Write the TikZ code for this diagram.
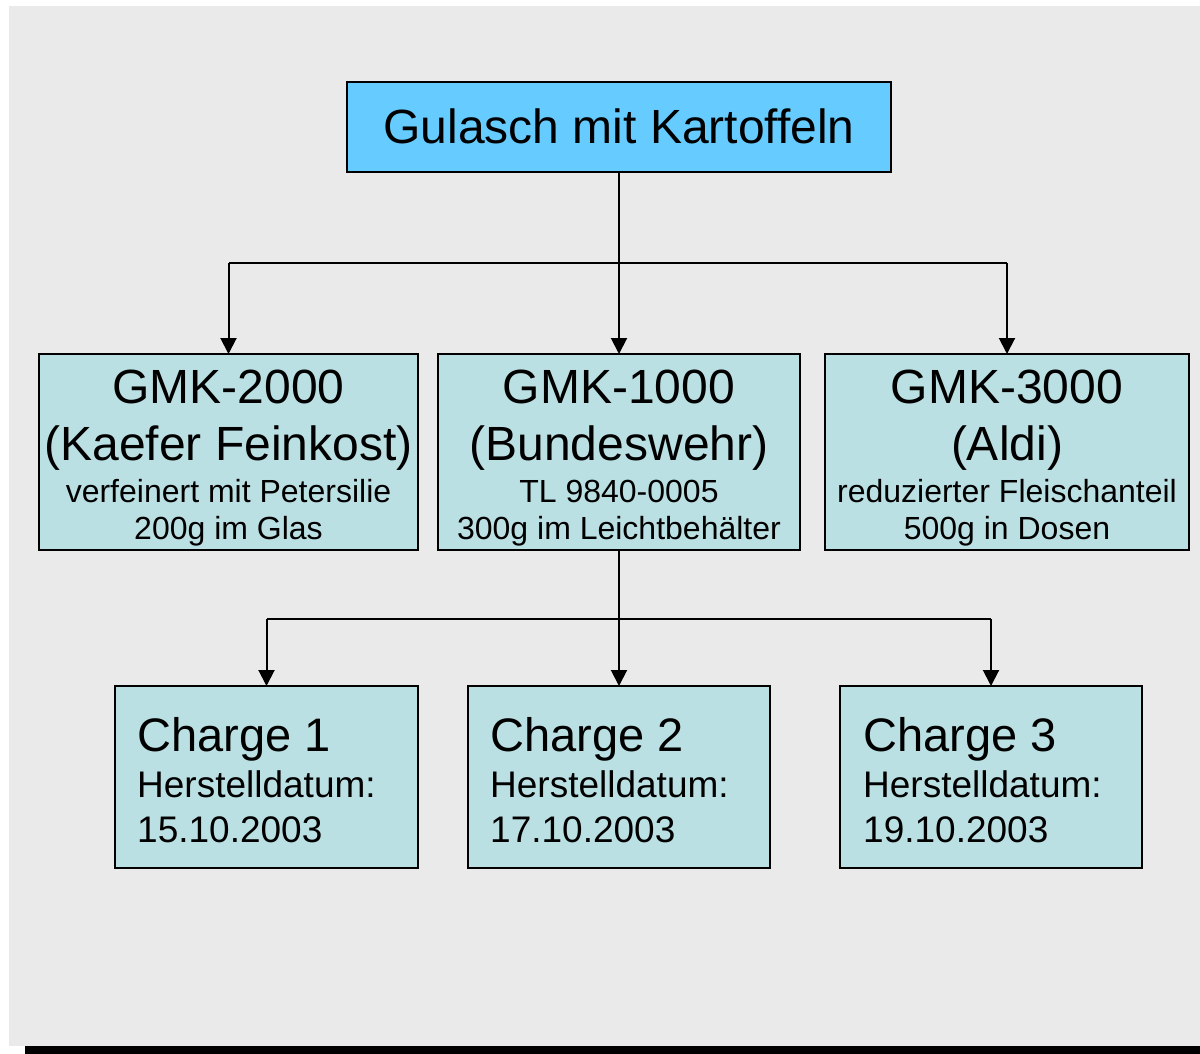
\documentclass[tikz,border=0pt]{standalone}
\usepackage{fontspec}
\setmainfont{Liberation Sans}
\usetikzlibrary{arrows.meta}
\definecolor{bg}{HTML}{EAEAEA}
\definecolor{topfill}{HTML}{66CCFF}
\definecolor{boxfill}{HTML}{BBE0E3}
\begin{document}
\begin{tikzpicture}[x=1pt,y=-1pt,
  box/.style={draw=black,line width=2pt,anchor=north west,inner sep=0pt,outer sep=0pt,fill=boxfill},
  conn/.style={draw=black,line width=2pt},
  arr/.style={conn,-{Triangle[length=16pt,width=16pt]}},
  txt/.style={anchor=base,inner sep=0pt},
  big/.style={txt,font=\fontsize{48}{48}\selectfont},
  small/.style={txt,font=\fontsize{32}{32}\selectfont},
  mid/.style={txt,anchor=base west,font=\fontsize{37}{37}\selectfont},
  bigl/.style={txt,anchor=base west,font=\fontsize{47}{47}\selectfont}]
\useasboundingbox (0,0) rectangle (1200,1054);
\fill[white] (0,0) rectangle (1200,1054);
\fill[bg] (9,6) rectangle (1200,1046);
\fill[black] (25,1046) rectangle (1200,1054);
% boxes
\node[box,fill=topfill,minimum width=544pt,minimum height=90pt] (top) at (347,82) {};
\node[box,minimum width=379pt,minimum height=196pt] (m1) at (39,354) {};
\node[box,minimum width=362pt,minimum height=196pt] (m2) at (438,354) {};
\node[box,minimum width=364pt,minimum height=196pt] (m3) at (825,354) {};
\node[box,minimum width=303pt,minimum height=182pt] (c1) at (115,686) {};
\node[box,minimum width=302pt,minimum height=182pt] (c2) at (468,686) {};
\node[box,minimum width=302pt,minimum height=182pt] (c3) at (840,686) {};
% texts
\node[txt,font=\fontsize{48}{48}\selectfont] (toptxt) at (619,144) {Gulasch mit Kartoffeln};
\node[big] (m1a) at (228.5,403) {GMK-2000};
\node[big] (m1b) at (228.5,460) {(Kaefer Feinkost)};
\node[small] (m1c) at (228.5,502) {verfeinert mit Petersilie};
\node[small] (m1d) at (228.5,539.5) {200g im Glas};
\node[big] (m2a) at (619,403) {GMK-1000};
\node[big] (m2b) at (619,460) {(Bundeswehr)};
\node[small] (m2c) at (619,502) {TL 9840-0005};
\node[small] (m2d) at (619,539.5) {300g im Leichtbehälter};
\node[big] (m3a) at (1007,403) {GMK-3000};
\node[big] (m3b) at (1007,460) {(Aldi)};
\node[small] (m3c) at (1007,502) {reduzierter Fleischanteil};
\node[small] (m3d) at (1007,539.5) {500g in Dosen};
\node[bigl] (c1a) at (137,751) {Charge 1};
\node[mid] (c1b) at (137,797.5) {Herstelldatum:};
\node[mid] (c1c) at (137,842) {15.10.2003};
\node[bigl] (c2a) at (490,751) {Charge 2};
\node[mid] (c2b) at (490,797.5) {Herstelldatum:};
\node[mid] (c2c) at (490,842) {17.10.2003};
\node[bigl] (c3a) at (863,751) {Charge 3};
\node[mid] (c3b) at (863,797.5) {Herstelldatum:};
\node[mid] (c3c) at (863,842) {19.10.2003};
% connectors
\coordinate (j1) at (619,263);
\coordinate (j2) at (619,619);
\draw[conn] (top.south) -- (j1);
\draw[conn] (j1) -- (j1 -| m1.north);
\draw[conn] (j1) -- (j1 -| m3.north);
\draw[arr] (j1 -| m1.north) -- (m1.north);
\draw[arr] (j1) -- (j1 |- m2.north);
\draw[arr] (j1 -| m3.north) -- (m3.north);
\draw[conn] (m2.south) -- (j2);
\draw[conn] (j2) -- (j2 -| c1.north);
\draw[conn] (j2) -- (j2 -| c3.north);
\draw[arr] (j2 -| c1.north) -- (c1.north);
\draw[arr] (j2) -- (j2 |- c2.north);
\draw[arr] (j2 -| c3.north) -- (c3.north);
\end{tikzpicture}
\end{document}
